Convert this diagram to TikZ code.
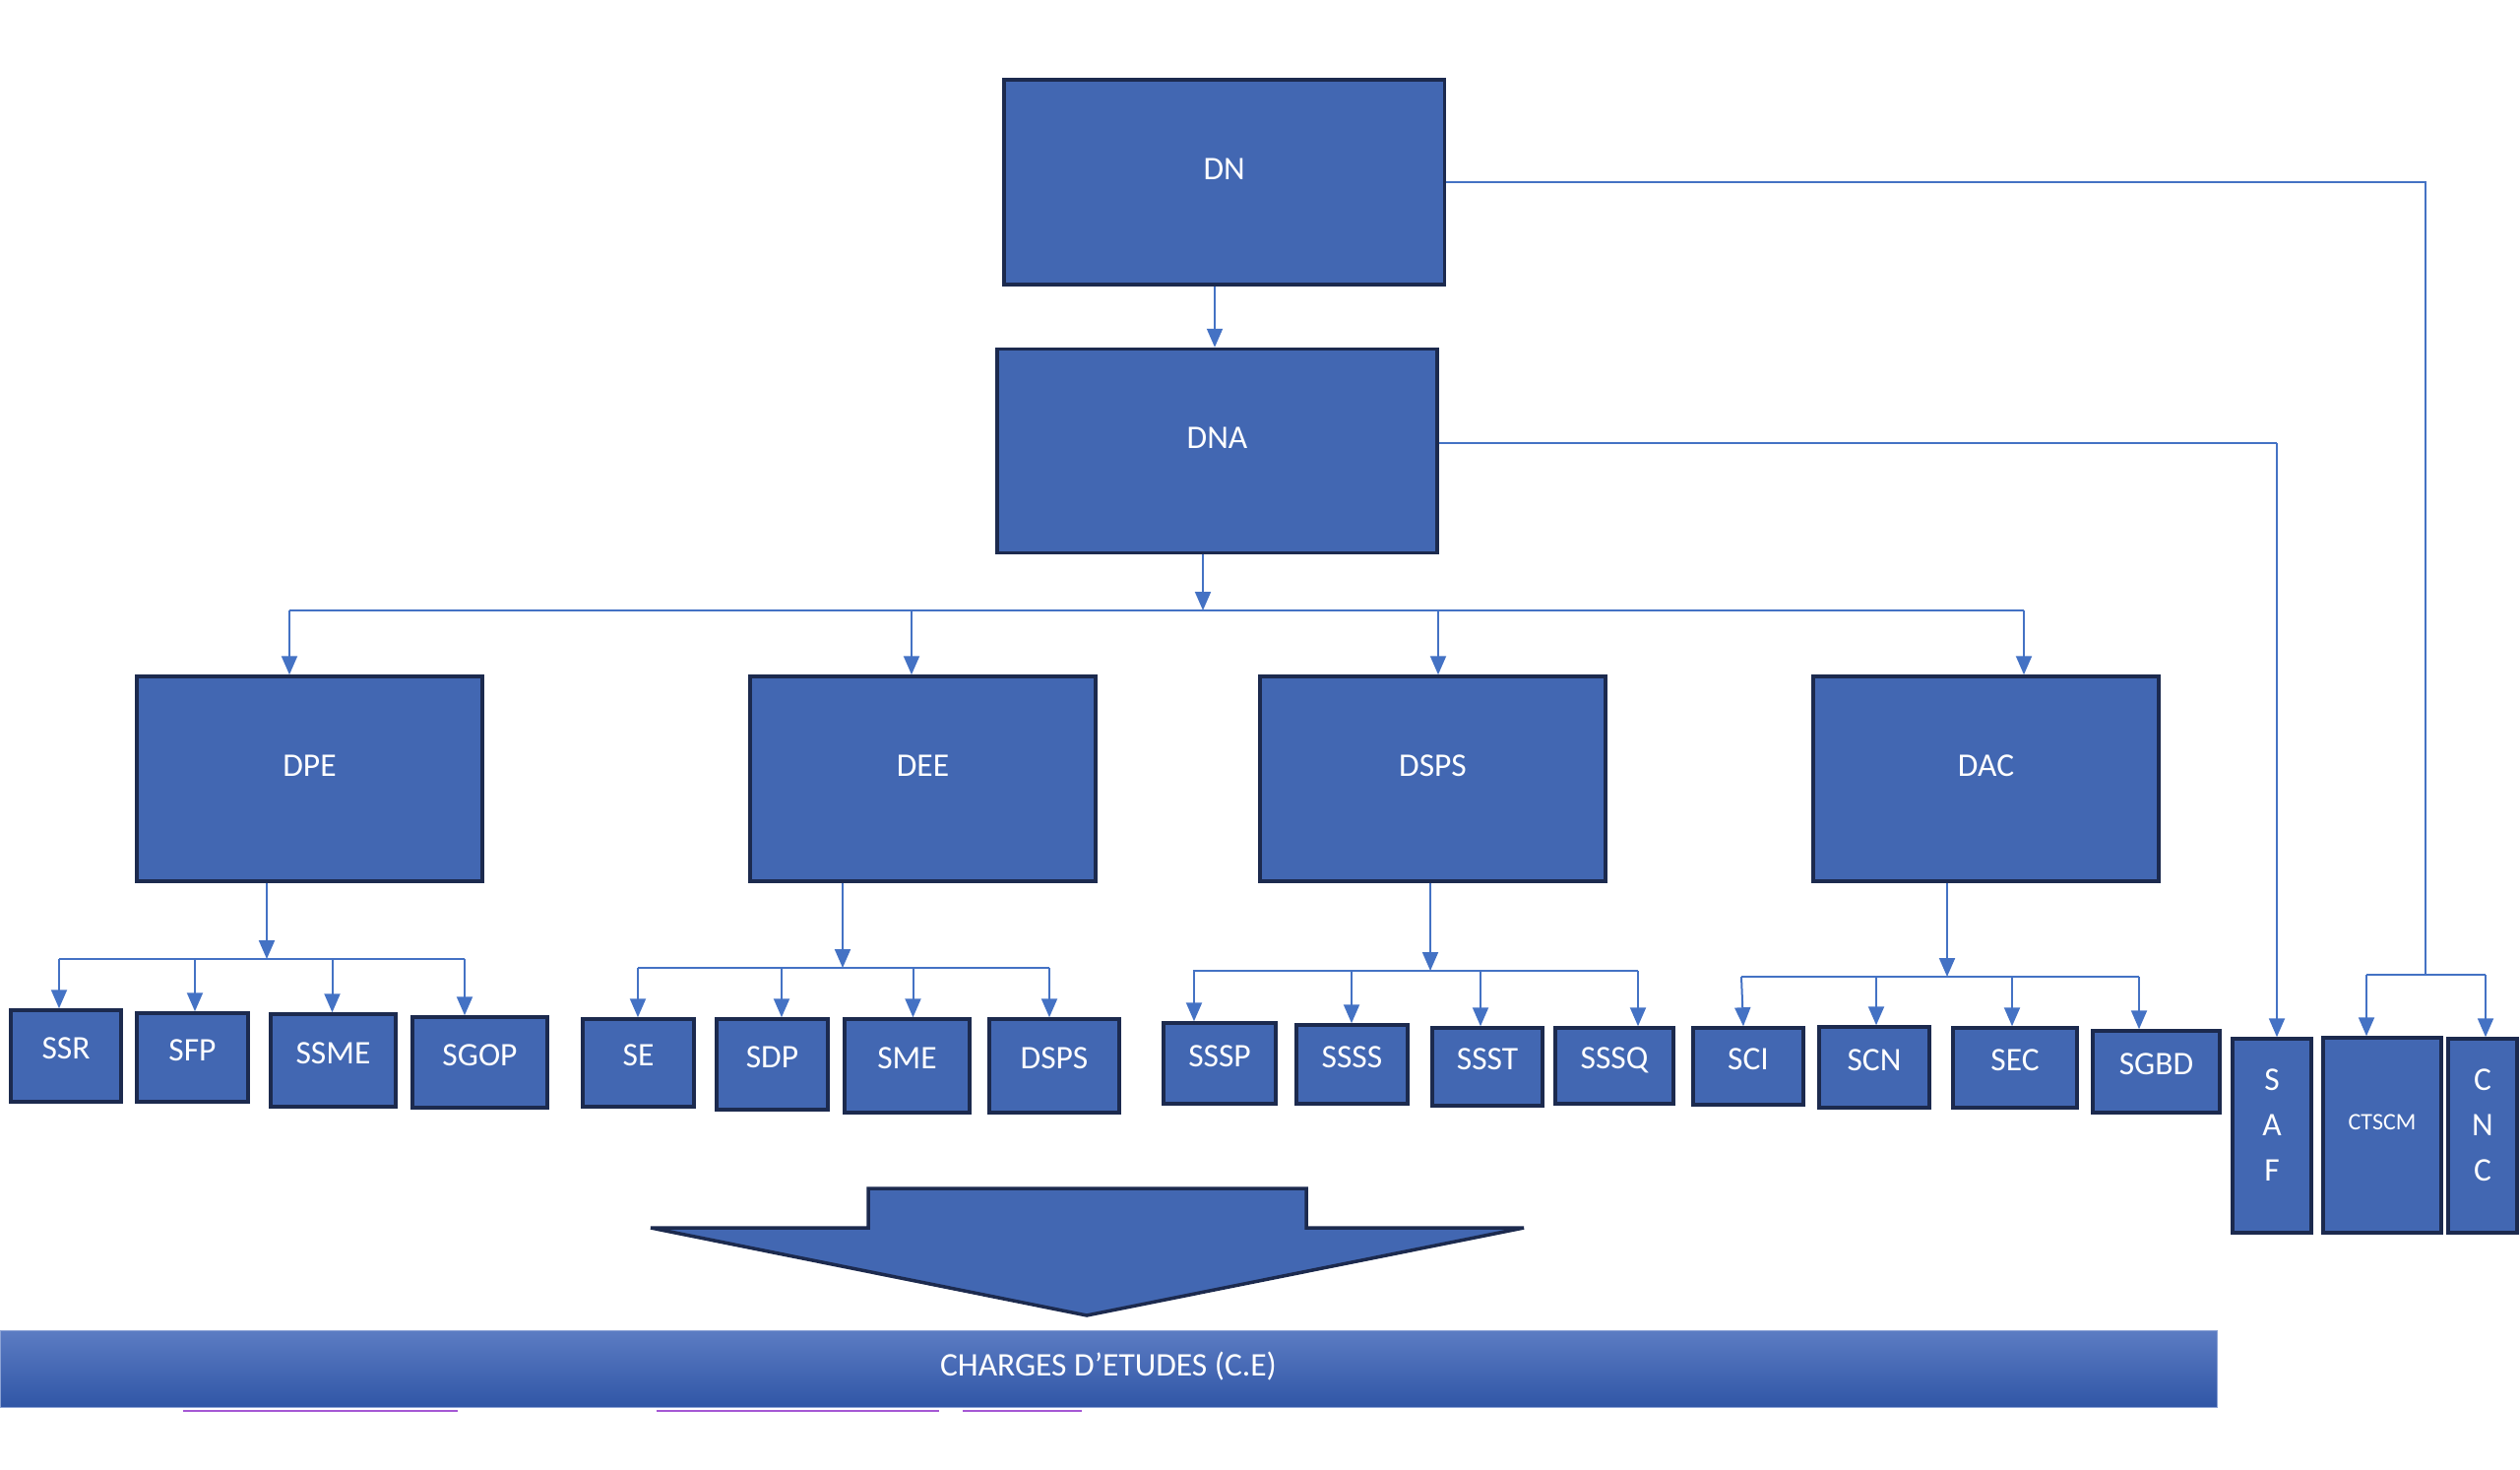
\documentclass[tikz,border=0pt]{standalone}
\usepackage{fontspec}
\setmainfont{Carlito}
\usetikzlibrary{arrows.meta}
\definecolor{boxfill}{RGB}{66,103,178}
\definecolor{boxline}{RGB}{28,42,78}
\definecolor{connc}{RGB}{68,114,196}
\definecolor{bantop}{RGB}{92,124,195}
\definecolor{banbot}{RGB}{48,86,166}
\definecolor{linkc}{RGB}{165,88,212}
\tikzset{
  orgbox/.style={draw=boxline, line width=3.5pt, fill=boxfill, text=white, inner sep=0pt,
    font=\fontsize{33.5}{40}\selectfont, text height=21.2pt, text depth=27pt},
  smallbox/.style={orgbox, text depth=15pt},
  vertbox/.style={orgbox, align=center, font=\fontsize{33.5}{46}\selectfont, text height=113.2pt, text depth=22pt},
  conn/.style={draw=connc, line width=2pt},
  arr/.style={conn, -{Triangle[length=19pt,width=16pt]}},
}
\begin{document}
\begin{tikzpicture}[x=1pt,y=-1pt]
\useasboundingbox (0,0) rectangle (2560,1493);

% top level
\node[orgbox, minimum width=447.5pt, minimum height=208pt] (DN) at (1243.75,185) {DN};
\node[orgbox, minimum width=447pt, minimum height=207pt] (DNA) at (1236.5,458) {DNA};

% directions
\node[orgbox, minimum width=351pt, minimum height=208pt] (DPE) at (314.5,791) {DPE};
\node[orgbox, minimum width=351pt, minimum height=208pt] (DEE) at (937.5,791) {DEE};
\node[orgbox, minimum width=351pt, minimum height=208pt] (DSPS) at (1455.5,791) {DSPS};
\node[orgbox, minimum width=351pt, minimum height=208pt] (DAC) at (2017.5,791) {DAC};

% services
\node[smallbox, minimum width=112pt, minimum height=93pt] (SSR) at (67,1072.5) {SSR};
\node[smallbox, minimum width=113pt, minimum height=90pt] (SFP) at (195.5,1074) {SFP};
\node[smallbox, minimum width=127pt, minimum height=94pt] (SSME) at (338.5,1077) {SSME};
\node[smallbox, minimum width=137pt, minimum height=92pt] (SGOP) at (487.5,1079) {SGOP};

\node[smallbox, minimum width=113pt, minimum height=89pt] (SE) at (648.5,1079.5) {SE};
\node[smallbox, minimum width=113pt, minimum height=92pt] (SDP) at (784.5,1081) {SDP};
\node[smallbox, minimum width=127pt, minimum height=95pt] (SME) at (921.5,1082.5) {SME};
\node[smallbox, minimum width=132pt, minimum height=95pt] (DSPSb) at (1071,1082.5) {DSPS};

\node[smallbox, minimum width=114pt, minimum height=82pt] (SSSP) at (1239,1080) {SSSP};
\node[smallbox, minimum width=113pt, minimum height=80pt] (SSSS) at (1373.5,1081) {SSSS};
\node[smallbox, minimum width=112pt, minimum height=79pt] (SSST) at (1511,1083.5) {SSST};
\node[smallbox, minimum width=120pt, minimum height=77pt] (SSSQ) at (1640,1082.5) {SSSQ};

\node[smallbox, minimum width=112pt, minimum height=78pt] (SCI) at (1776,1083) {SCI};
\node[smallbox, minimum width=112pt, minimum height=82pt] (SCN) at (1904,1084) {SCN};
\node[smallbox, minimum width=126pt, minimum height=81pt] (SEC) at (2047,1084.5) {SEC};
\node[smallbox, minimum width=129pt, minimum height=83pt] (SGBD) at (2190.5,1088.5) {SGBD};

\node[vertbox, minimum width=80pt, minimum height=197pt] (SAF) at (2308,1153.5) {S\\A\\F};
\node[orgbox, minimum width=120pt, minimum height=198pt, font=\fontsize{24}{28}\selectfont, text height=15.2pt, text depth=26pt] (CTSCM) at (2420,1153) {CTSCM};
\node[vertbox, minimum width=70pt, minimum height=197pt] (CNC) at (2522,1153.5) {C\\N\\C};

% bus coordinates
\coordinate (b0) at (1222,620);
\coordinate (b1) at (271,974);
\coordinate (b2) at (856,983);
\coordinate (b3) at (1453,986);
\coordinate (b4) at (1978,992);
\coordinate (cDN) at (2464,185);
\coordinate (cDNA) at (2313,450);
\coordinate (b5) at (2464,990);

% DN -> DNA
\draw[arr] (DN.south -| 1234,0) -- (DNA.north -| 1234,0);

% DN -> CTSCM / CNC
\draw[conn] (DN.east) -- (cDN) -- (b5);
\draw[conn] (b5 -| 2404,0) -- (b5 -| 2525,0);
\draw[arr] (b5 -| 2404,0) -- (CTSCM.north -| 2404,0);
\draw[arr] (b5 -| 2525,0) -- (CNC.north -| 2525,0);

% DNA -> SAF
\draw[conn] (DNA.east |- cDNA) -- (cDNA);
\draw[arr] (cDNA) -- (SAF.north -| cDNA);

% DNA -> directions
\draw[arr] (DNA.south -| b0) -- (b0);
\draw[conn] (b0 -| 294,0) -- (b0 -| 2056,0);
\draw[arr] (b0 -| 294,0) -- (DPE.north -| 294,0);
\draw[arr] (b0 -| 926,0) -- (DEE.north -| 926,0);
\draw[arr] (b0 -| 1461,0) -- (DSPS.north -| 1461,0);
\draw[arr] (b0 -| 2056,0) -- (DAC.north -| 2056,0);

% DPE -> services
\draw[arr] (DPE.south -| b1) -- (b1);
\draw[conn] (b1 -| 60,0) -- (b1 -| 472,0);
\draw[arr] (b1 -| 60,0) -- (SSR.north -| 60,0);
\draw[arr] (b1 -| 198,0) -- (SFP.north -| 198,0);
\draw[arr] (b1 -| 337.5,0) -- (SSME.north -| 337.5,0);
\draw[arr] (b1 -| 472,0) -- (SGOP.north -| 472,0);

% DEE -> services
\draw[arr] (DEE.south -| b2) -- (b2);
\draw[conn] (b2 -| 648,0) -- (b2 -| 1066,0);
\draw[arr] (b2 -| 648,0) -- (SE.north -| 648,0);
\draw[arr] (b2 -| 794,0) -- (SDP.north -| 794,0);
\draw[arr] (b2 -| 927.5,0) -- (SME.north -| 927.5,0);
\draw[arr] (b2 -| 1066,0) -- (DSPSb.north -| 1066,0);

% DSPS -> services
\draw[arr] (DSPS.south -| b3) -- (b3);
\draw[conn] (b3 -| 1212,0) -- (b3 -| 1664,0);
\draw[arr] (b3 -| 1213,0) -- (SSSP.north -| 1213,0);
\draw[arr] (b3 -| 1373,0) -- (SSSS.north -| 1373,0);
\draw[arr] (b3 -| 1504,0) -- (SSST.north -| 1504,0);
\draw[arr] (b3 -| 1664,0) -- (SSSQ.north -| 1664,0);

% DAC -> services
\draw[arr] (DAC.south -| b4) -- (b4);
\draw[conn] (b4 -| 1769,0) -- (b4 -| 2173,0);
\draw[arr] (b4 -| 1769,0) -- (SCI.north -| 1771,0);
\draw[arr] (b4 -| 1906,0) -- (SCN.north -| 1906,0);
\draw[arr] (b4 -| 2044,0) -- (SEC.north -| 2044,0);
\draw[arr] (b4 -| 2173,0) -- (SGBD.north -| 2173,0);

% big down arrow
\draw[draw=boxline, line width=3.5pt, fill=boxfill, line join=miter]
  (882,1207) -- (1327,1207) -- (1327,1247) -- (1548,1247) -- (1104,1336)
  -- (661,1247) -- (882,1247) -- cycle;

% underline remnants (partly hidden by the banner)
\draw[linkc, line width=2.5pt] (186,1433) -- (465,1433);
\draw[linkc, line width=2.5pt] (667,1433) -- (954,1433);
\draw[linkc, line width=2.5pt] (978,1433) -- (1099,1433);

% banner
\node[top color=bantop, bottom color=banbot, draw=bantop!70!white, line width=1pt,
  minimum width=2252pt, minimum height=78pt, inner sep=0pt, text=white,
  font=\fontsize{33.5}{40}\selectfont, text height=21.2pt, text depth=6pt] (CE) at (1126,1390) {CHARGES D’ETUDES (C.E)};
\end{tikzpicture}
\end{document}
